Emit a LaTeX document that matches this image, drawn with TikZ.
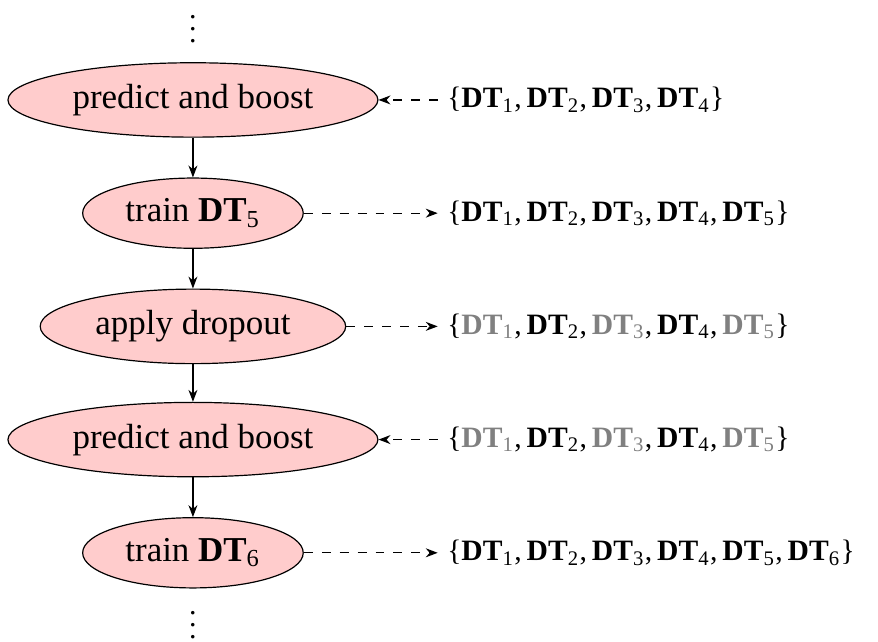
\documentclass[tikz,border=0pt]{standalone}
\usepackage{amssymb,amsmath}
\usepackage{fontspec}
\setmainfont{Liberation Serif}
\usetikzlibrary{shapes,arrows.meta,positioning}

\begin{document}
\begin{tikzpicture}[
      node distance = 1.332cm,
      auto
    ]

    \tikzstyle{paso} = [
        ellipse,
        draw,
        fill=red!20,
        text centered,
        inner sep=3.5pt,
        font=\fontsize{11.7}{14}\selectfont,
    ]

    \tikzstyle{conjunto} = [
        anchor=west,
        inner sep=3pt,
        font=\fontsize{9.9}{12}\selectfont,
    ]

    \tikzstyle{linea} = [
        draw,
        -{Stealth[length=4pt,width=3pt]},
    ]

    \tikzstyle{punteada} = [
        draw,
        dashed,
        -{Stealth[length=4pt,width=3pt]},
    ]

    \newcommand{\dt}[1]{\textbf{DT}\textsubscript{#1}}
    \newcommand{\gdt}[1]{{\color{gray}\textbf{DT}\textsubscript{#1}}}

    \useasboundingbox (0,0) rectangle (10.33,-7.553);

    \coordinate (col) at (5.15,0);

    \node [inner sep=1pt]                    (arriba) at (2.27,-0.24) {$\vdots$};
    \node [paso]                            (pred1) at (2.27,-1.176) {predict and boost};
    \node [paso, below of=pred1]           (train5) {train \dt{5}};
    \node [paso, below of=train5]          (drop) {apply dropout};
    \node [paso, below of=drop]            (pred2) {predict and boost};
    \node [paso, below of=pred2]           (train6) {train \dt{6}};
    \node [inner sep=1pt, node distance=0.75cm, below of=train6] (abajo) {$\vdots$};

    \node [conjunto] (s1) at (pred1 -| col)  {\{\dt{1},\,\dt{2},\,\dt{3},\,\dt{4}\}};
    \node [conjunto] (s2) at (train5 -| col) {\{\dt{1},\,\dt{2},\,\dt{3},\,\dt{4},\,\dt{5}\}};
    \node [conjunto] (s3) at (drop -| col)   {\{\gdt{1},\,\dt{2},\,\gdt{3},\,\dt{4},\,\gdt{5}\}};
    \node [conjunto] (s4) at (pred2 -| col)  {\{\gdt{1},\,\dt{2},\,\gdt{3},\,\dt{4},\,\gdt{5}\}};
    \node [conjunto] (s5) at (train6 -| col) {\{\dt{1},\,\dt{2},\,\dt{3},\,\dt{4},\,\dt{5},\,\dt{6}\}};

    \path [linea] (pred1) -- (train5);
    \path [linea] (train5) -- (drop);
    \path [linea] (drop) -- (pred2);
    \path [linea] (pred2) -- (train6);

    \path [punteada] (s1) -- (pred1);
    \path [punteada] (train5) -- (s2);
    \path [punteada] (drop) -- (s3);
    \path [punteada] (s4) -- (pred2);
    \path [punteada] (train6) -- (s5);

    \end{tikzpicture}
\end{document}
